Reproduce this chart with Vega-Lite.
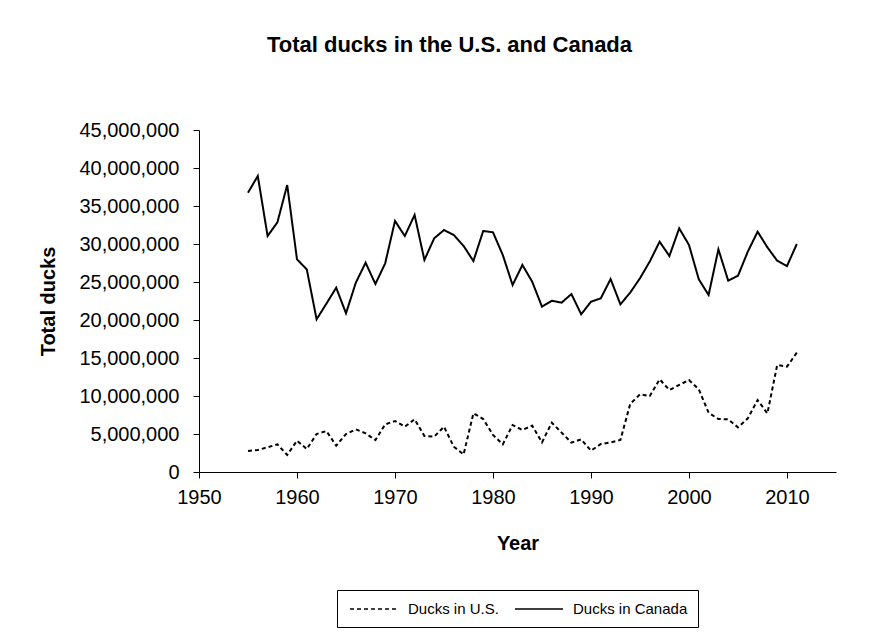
{
  "$schema": "https://vega.github.io/schema/vega-lite/v6.json",
  "width": 637,
  "height": 342,
  "autosize": {"type": "none"},
  "padding": {"left": 199, "top": 130, "right": 37, "bottom": 162},
  "background": "white",
  "title": {
    "text": "Total ducks in the U.S. and Canada",
    "font": "Liberation Sans",
    "fontSize": 22,
    "fontWeight": "bold",
    "color": "black",
    "anchor": "middle",
    "frame": "group",
    "dx": -68,
    "offset": 63
  },
  "config": {
    "view": {"stroke": null},
    "axis": {
      "labelFont": "Liberation Sans",
      "labelFontSize": 20,
      "labelColor": "black",
      "titleFont": "Liberation Sans",
      "titleFontSize": 20,
      "titleFontWeight": "bold",
      "titleColor": "black",
      "domainColor": "black",
      "tickColor": "black",
      "tickSize": 6,
      "grid": false
    }
  },
  "data": {
    "values": [
      {"year": 1955, "series": "Ducks in U.S.", "ducks": 2760000},
      {"year": 1956, "series": "Ducks in U.S.", "ducks": 2900000},
      {"year": 1957, "series": "Ducks in U.S.", "ducks": 3250000},
      {"year": 1958, "series": "Ducks in U.S.", "ducks": 3640000},
      {"year": 1959, "series": "Ducks in U.S.", "ducks": 2240000},
      {"year": 1960, "series": "Ducks in U.S.", "ducks": 4120000},
      {"year": 1961, "series": "Ducks in U.S.", "ducks": 3020000},
      {"year": 1962, "series": "Ducks in U.S.", "ducks": 5000000},
      {"year": 1963, "series": "Ducks in U.S.", "ducks": 5390000},
      {"year": 1964, "series": "Ducks in U.S.", "ducks": 3460000},
      {"year": 1965, "series": "Ducks in U.S.", "ducks": 5000000},
      {"year": 1966, "series": "Ducks in U.S.", "ducks": 5610000},
      {"year": 1967, "series": "Ducks in U.S.", "ducks": 5090000},
      {"year": 1968, "series": "Ducks in U.S.", "ducks": 4210000},
      {"year": 1969, "series": "Ducks in U.S.", "ducks": 6270000},
      {"year": 1970, "series": "Ducks in U.S.", "ducks": 6710000},
      {"year": 1971, "series": "Ducks in U.S.", "ducks": 5960000},
      {"year": 1972, "series": "Ducks in U.S.", "ducks": 6930000},
      {"year": 1973, "series": "Ducks in U.S.", "ducks": 4740000},
      {"year": 1974, "series": "Ducks in U.S.", "ducks": 4650000},
      {"year": 1975, "series": "Ducks in U.S.", "ducks": 5960000},
      {"year": 1976, "series": "Ducks in U.S.", "ducks": 3330000},
      {"year": 1977, "series": "Ducks in U.S.", "ducks": 2320000},
      {"year": 1978, "series": "Ducks in U.S.", "ducks": 7720000},
      {"year": 1979, "series": "Ducks in U.S.", "ducks": 6970000},
      {"year": 1980, "series": "Ducks in U.S.", "ducks": 4870000},
      {"year": 1981, "series": "Ducks in U.S.", "ducks": 3640000},
      {"year": 1982, "series": "Ducks in U.S.", "ducks": 6180000},
      {"year": 1983, "series": "Ducks in U.S.", "ducks": 5530000},
      {"year": 1984, "series": "Ducks in U.S.", "ducks": 6100000},
      {"year": 1985, "series": "Ducks in U.S.", "ducks": 3900000},
      {"year": 1986, "series": "Ducks in U.S.", "ducks": 6490000},
      {"year": 1987, "series": "Ducks in U.S.", "ducks": 5180000},
      {"year": 1988, "series": "Ducks in U.S.", "ducks": 3860000},
      {"year": 1989, "series": "Ducks in U.S.", "ducks": 4300000},
      {"year": 1990, "series": "Ducks in U.S.", "ducks": 2810000},
      {"year": 1991, "series": "Ducks in U.S.", "ducks": 3680000},
      {"year": 1992, "series": "Ducks in U.S.", "ducks": 3900000},
      {"year": 1993, "series": "Ducks in U.S.", "ducks": 4210000},
      {"year": 1994, "series": "Ducks in U.S.", "ducks": 8950000},
      {"year": 1995, "series": "Ducks in U.S.", "ducks": 10220000},
      {"year": 1996, "series": "Ducks in U.S.", "ducks": 10000000},
      {"year": 1997, "series": "Ducks in U.S.", "ducks": 12200000},
      {"year": 1998, "series": "Ducks in U.S.", "ducks": 10790000},
      {"year": 1999, "series": "Ducks in U.S.", "ducks": 11450000},
      {"year": 2000, "series": "Ducks in U.S.", "ducks": 12100000},
      {"year": 2001, "series": "Ducks in U.S.", "ducks": 10880000},
      {"year": 2002, "series": "Ducks in U.S.", "ducks": 7800000},
      {"year": 2003, "series": "Ducks in U.S.", "ducks": 6970000},
      {"year": 2004, "series": "Ducks in U.S.", "ducks": 6930000},
      {"year": 2005, "series": "Ducks in U.S.", "ducks": 5880000},
      {"year": 2006, "series": "Ducks in U.S.", "ducks": 7060000},
      {"year": 2007, "series": "Ducks in U.S.", "ducks": 9470000},
      {"year": 2008, "series": "Ducks in U.S.", "ducks": 7720000},
      {"year": 2009, "series": "Ducks in U.S.", "ducks": 14080000},
      {"year": 2010, "series": "Ducks in U.S.", "ducks": 13860000},
      {"year": 2011, "series": "Ducks in U.S.", "ducks": 15700000},
      {"year": 1955, "series": "Ducks in Canada", "ducks": 36750000},
      {"year": 1956, "series": "Ducks in Canada", "ducks": 38950000},
      {"year": 1957, "series": "Ducks in Canada", "ducks": 31050000},
      {"year": 1958, "series": "Ducks in Canada", "ducks": 32850000},
      {"year": 1959, "series": "Ducks in Canada", "ducks": 37760000},
      {"year": 1960, "series": "Ducks in Canada", "ducks": 27980000},
      {"year": 1961, "series": "Ducks in Canada", "ducks": 26660000},
      {"year": 1962, "series": "Ducks in Canada", "ducks": 20090000},
      {"year": 1963, "series": "Ducks in Canada", "ducks": 22150000},
      {"year": 1964, "series": "Ducks in Canada", "ducks": 24250000},
      {"year": 1965, "series": "Ducks in Canada", "ducks": 20880000},
      {"year": 1966, "series": "Ducks in Canada", "ducks": 24900000},
      {"year": 1967, "series": "Ducks in Canada", "ducks": 27540000},
      {"year": 1968, "series": "Ducks in Canada", "ducks": 24740000},
      {"year": 1969, "series": "Ducks in Canada", "ducks": 27460000},
      {"year": 1970, "series": "Ducks in Canada", "ducks": 33030000},
      {"year": 1971, "series": "Ducks in Canada", "ducks": 31050000},
      {"year": 1972, "series": "Ducks in Canada", "ducks": 33820000},
      {"year": 1973, "series": "Ducks in Canada", "ducks": 27900000},
      {"year": 1974, "series": "Ducks in Canada", "ducks": 30750000},
      {"year": 1975, "series": "Ducks in Canada", "ducks": 31840000},
      {"year": 1976, "series": "Ducks in Canada", "ducks": 31180000},
      {"year": 1977, "series": "Ducks in Canada", "ducks": 29740000},
      {"year": 1978, "series": "Ducks in Canada", "ducks": 27760000},
      {"year": 1979, "series": "Ducks in Canada", "ducks": 31710000},
      {"year": 1980, "series": "Ducks in Canada", "ducks": 31540000},
      {"year": 1981, "series": "Ducks in Canada", "ducks": 28550000},
      {"year": 1982, "series": "Ducks in Canada", "ducks": 24600000},
      {"year": 1983, "series": "Ducks in Canada", "ducks": 27240000},
      {"year": 1984, "series": "Ducks in Canada", "ducks": 25040000},
      {"year": 1985, "series": "Ducks in Canada", "ducks": 21750000},
      {"year": 1986, "series": "Ducks in Canada", "ducks": 22540000},
      {"year": 1987, "series": "Ducks in Canada", "ducks": 22280000},
      {"year": 1988, "series": "Ducks in Canada", "ducks": 23420000},
      {"year": 1989, "series": "Ducks in Canada", "ducks": 20750000},
      {"year": 1990, "series": "Ducks in Canada", "ducks": 22410000},
      {"year": 1991, "series": "Ducks in Canada", "ducks": 22850000},
      {"year": 1992, "series": "Ducks in Canada", "ducks": 25390000},
      {"year": 1993, "series": "Ducks in Canada", "ducks": 22060000},
      {"year": 1994, "series": "Ducks in Canada", "ducks": 23600000},
      {"year": 1995, "series": "Ducks in Canada", "ducks": 25500000},
      {"year": 1996, "series": "Ducks in Canada", "ducks": 27700000},
      {"year": 1997, "series": "Ducks in Canada", "ducks": 30300000},
      {"year": 1998, "series": "Ducks in Canada", "ducks": 28420000},
      {"year": 1999, "series": "Ducks in Canada", "ducks": 32060000},
      {"year": 2000, "series": "Ducks in Canada", "ducks": 29870000},
      {"year": 2001, "series": "Ducks in Canada", "ducks": 25350000},
      {"year": 2002, "series": "Ducks in Canada", "ducks": 23290000},
      {"year": 2003, "series": "Ducks in Canada", "ducks": 29300000},
      {"year": 2004, "series": "Ducks in Canada", "ducks": 25180000},
      {"year": 2005, "series": "Ducks in Canada", "ducks": 25830000},
      {"year": 2006, "series": "Ducks in Canada", "ducks": 28990000},
      {"year": 2007, "series": "Ducks in Canada", "ducks": 31620000},
      {"year": 2008, "series": "Ducks in Canada", "ducks": 29560000},
      {"year": 2009, "series": "Ducks in Canada", "ducks": 27800000},
      {"year": 2010, "series": "Ducks in Canada", "ducks": 27100000},
      {"year": 2011, "series": "Ducks in Canada", "ducks": 30000000}
    ]
  },
  "mark": {"type": "line", "color": "black", "strokeWidth": 2},
  "encoding": {
    "x": {
      "field": "year",
      "type": "quantitative",
      "scale": {"domain": [1950, 2015], "nice": false, "zero": false},
      "axis": {"title": "Year", "values": [1950, 1960, 1970, 1980, 1990, 2000, 2010], "format": "d", "labelPadding": 9, "titlePadding": 26, "labelFlush": false}
    },
    "y": {
      "field": "ducks",
      "type": "quantitative",
      "scale": {"domain": [0, 45000000], "nice": false},
      "axis": {"title": "Total ducks", "values": [0, 5000000, 10000000, 15000000, 20000000, 25000000, 30000000, 35000000, 40000000, 45000000], "format": ",d", "labelPadding": 14, "titlePadding": 20}
    },
    "strokeDash": {
      "field": "series",
      "type": "nominal",
      "scale": {"domain": ["Ducks in U.S.", "Ducks in Canada"], "range": [[4, 3], [1, 0]]},
      "legend": {
        "title": null,
        "orient": "none",
        "legendX": 138,
        "legendY": 460,
        "direction": "horizontal",
        "strokeColor": "black",
        "fillColor": "white",
        "padding": 10,
        "labelFont": "Liberation Sans",
        "labelFontSize": 15,
        "labelColor": "black",
        "labelOffset": 43,
        "symbolType": "M-0.75,0H5.25",
        "symbolSize": 256,
        "symbolStrokeWidth": 1.5,
        "symbolStrokeColor": "black",
        "columnPadding": 13
      }
    }
  }
}
